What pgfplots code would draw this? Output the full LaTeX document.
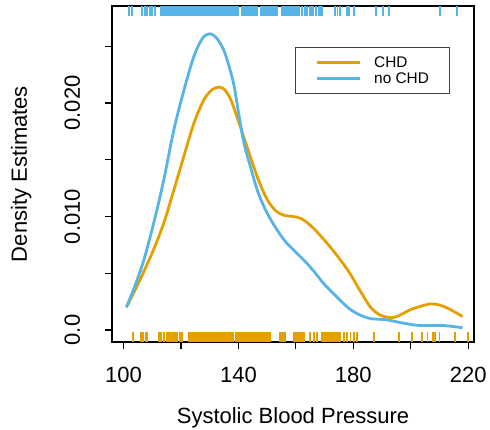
\documentclass[border=0pt]{standalone}
\usepackage{fontspec}
\setmainfont{Liberation Sans}
\usepackage{pgfplots}
\pgfplotsset{compat=1.18}
\definecolor{chd}{HTML}{E69F00}
\definecolor{nochd}{HTML}{56B4E9}

\begin{document}
\begin{tikzpicture}
\begin{axis}[
  name=ax,
  scale only axis,
  width=362pt, height=336pt,
  xmin=96, xmax=222,
  ymin=-0.001057, ymax=0.028546,
  scaled y ticks=false,
  axis line style={line width=1.1pt},
  xtick={100,120,...,220},
  xticklabels={100,,140,,180,,220},
  ytick={0,0.005,0.01,0.015,0.02,0.025},
  yticklabels={0.0,,0.010,,0.020,},
  xtick pos=bottom, ytick pos=left,
  tick align=outside,
  major tick length=7pt,
  tick style={line width=1.1pt, black},
  tick label style={font=\fontsize{22}{26}\selectfont},
  xticklabel style={anchor=base, yshift=-34pt},
  yticklabel style={xshift=-25pt, rotate=90, anchor=base},
  label style={font=\fontsize{22}{26}\selectfont},
  xlabel={Systolic Blood Pressure},
  ylabel={Density Estimates},
  xlabel style={at={(axis description cs:0.5,-0.244)}, anchor=base},
  ylabel style={at={(axis description cs:-0.235,0.5)}, anchor=base},
  legend style={at={(rel axis cs:0.5055,0.878)}, anchor=north west,
    font=\fontsize{15.4}{18}\selectfont, draw=black!75, line width=0.8pt,
    inner xsep=20pt, inner ysep=9pt, row sep=4pt, column sep=13pt,
    nodes={inner sep=0pt}},
  legend cell align=left,
  legend image code/.code={\draw[#1] (0pt,0pt) -- (43pt,0pt);},
]
% CHD density
\addplot[chd, line width=2.8pt, smooth] coordinates {
(101,0.0020) (104,0.0035) (107,0.0051) (110.5,0.0071) (114,0.0094)
(117.5,0.0123) (121,0.0153) (124.5,0.0182) (128,0.0203) (131,0.0212)
(133.5,0.0214) (135.5,0.0211) (137.5,0.0202) (140,0.0184) (142,0.0169)
(144.5,0.0150) (147,0.0132) (150,0.0115) (153,0.0105) (156,0.0101)
(159,0.0100) (162,0.0098) (166,0.0090) (172,0.0073) (178,0.0053)
(182.5,0.0034) (186,0.0020) (189.5,0.0013) (194,0.0011) (200,0.0018)
(203.5,0.0021) (207,0.0023) (210,0.0022) (213,0.0019) (218,0.0012)
};
\addlegendentry{CHD}
% no CHD density
\addplot[nochd, line width=2.8pt, smooth] coordinates {
(101,0.0020) (104,0.0039) (107,0.0061) (110.5,0.0094) (114,0.0132)
(117.5,0.0176) (121,0.0211) (124.5,0.0241) (127.5,0.0257) (130,0.0261)
(132.5,0.0257) (135,0.0246) (137,0.0230) (138.5,0.0215) (140,0.0192)
(142,0.0164) (144.5,0.0141) (147,0.0120) (150,0.0103) (153,0.0090)
(156,0.0079) (159,0.0071) (163,0.0061) (166.5,0.0051) (170,0.0040)
(175.5,0.0026) (179,0.0018) (182.5,0.0013) (186,0.0010) (191.5,0.0009)
(197.5,0.0006) (203,0.0004) (211,0.0004) (218,0.0002)
};
\addlegendentry{no CHD}

% rug, no CHD (top)
\addplot[forget plot, only marks, mark=|, mark size=5pt,
  mark options={line width=1.9pt, nochd}] coordinates {
(101.9,0.02811) (103,0.02811) (106.5,0.02811) (107.4,0.02811) (108.2,0.02811)
(109.1,0.02811) (110,0.02811) (110.9,0.02811) (113,0.02811) (113.5,0.02811) (114,0.02811)
(114.5,0.02811) (115,0.02811) (115.5,0.02811) (116,0.02811) (116.5,0.02811) (117,0.02811)
(117.5,0.02811) (118,0.02811) (118.5,0.02811) (119,0.02811) (119.5,0.02811) (120,0.02811)
(120.5,0.02811) (121,0.02811) (121.5,0.02811) (122,0.02811) (122.5,0.02811) (123,0.02811)
(123.5,0.02811) (124,0.02811) (124.5,0.02811) (125,0.02811) (125.5,0.02811) (126,0.02811)
(126.5,0.02811) (127,0.02811) (127.5,0.02811) (128,0.02811) (128.5,0.02811) (129,0.02811)
(129.5,0.02811) (130,0.02811) (130.5,0.02811) (131,0.02811) (131.5,0.02811) (132,0.02811)
(132.5,0.02811) (133,0.02811) (133.5,0.02811) (134,0.02811) (134.5,0.02811) (135,0.02811)
(135.5,0.02811) (136,0.02811) (136.5,0.02811) (137,0.02811) (137.5,0.02811) (138,0.02811)
(138.5,0.02811) (139,0.02811) (139.5,0.02811) (140,0.02811) (141.3,0.02811) (141.8,0.02811)
(142.3,0.02811) (142.8,0.02811) (143.3,0.02811) (143.8,0.02811) (144.3,0.02811) (144.8,0.02811)
(145.3,0.02811) (145.8,0.02811) (146.4,0.02811) (147.7,0.02811) (148.2,0.02811) (148.7,0.02811)
(149.2,0.02811) (149.7,0.02811) (150.2,0.02811) (150.7,0.02811) (151.2,0.02811) (152,0.02811)
(152.6,0.02811) (153.4,0.02811) (155.2,0.02811) (155.7,0.02811) (156.2,0.02811) (156.7,0.02811)
(157.2,0.02811) (157.7,0.02811) (158.2,0.02811) (158.7,0.02811) (159.2,0.02811) (159.7,0.02811)
(160.2,0.02811) (160.7,0.02811) (161.2,0.02811) (162.2,0.02811) (163,0.02811) (163.5,0.02811)
(164,0.02811) (165,0.02811) (165.5,0.02811) (166,0.02811) (167,0.02811) (168,0.02811)
(168.5,0.02811) (169.1,0.02811) (173.7,0.02811) (174.5,0.02811) (175.5,0.02811) (177.8,0.02811)
(178.4,0.02811) (180.1,0.02811) (188,0.02811) (190.3,0.02811) (192.3,0.02811)
(210.3,0.02811) (216.1,0.02811)
};
% rug, CHD (bottom)
\addplot[forget plot, only marks, mark=|, mark size=5pt,
  mark options={line width=1.9pt, chd}] coordinates {
(103.4,-0.00062) (106.1,-0.00062) (106.8,-0.00062) (107.7,-0.00062) (108.2,-0.00062)
(112.3,-0.00062) (112.9,-0.00062) (114,-0.00062) (115.2,-0.00062) (115.8,-0.00062)
(116.3,-0.00062) (116.9,-0.00062) (117.5,-0.00062) (118.1,-0.00062) (118.7,-0.00062)
(119.8,-0.00062) (120.4,-0.00062) (122.7,-0.00062) (123.2,-0.00062) (123.7,-0.00062)
(124.2,-0.00062) (124.7,-0.00062) (125.2,-0.00062) (125.7,-0.00062) (126.2,-0.00062)
(126.7,-0.00062) (127.2,-0.00062) (127.7,-0.00062) (128.2,-0.00062) (128.7,-0.00062)
(129.2,-0.00062) (129.7,-0.00062) (130.2,-0.00062) (130.7,-0.00062) (131.2,-0.00062)
(131.7,-0.00062) (132.2,-0.00062) (132.7,-0.00062) (133.2,-0.00062) (133.7,-0.00062)
(134.2,-0.00062) (134.7,-0.00062) (135.2,-0.00062) (135.7,-0.00062) (136.2,-0.00062)
(136.7,-0.00062) (137.2,-0.00062) (137.7,-0.00062) (138.2,-0.00062) (139,-0.00062)
(139.5,-0.00062) (140,-0.00062) (140.5,-0.00062) (141,-0.00062) (141.5,-0.00062)
(142,-0.00062) (142.5,-0.00062) (143,-0.00062) (143.5,-0.00062) (144,-0.00062)
(144.8,-0.00062) (145.3,-0.00062) (145.8,-0.00062) (146.3,-0.00062) (146.8,-0.00062)
(147.3,-0.00062) (147.8,-0.00062) (148.3,-0.00062) (148.8,-0.00062) (149.3,-0.00062)
(149.8,-0.00062) (150.3,-0.00062) (151,-0.00062) (154.6,-0.00062) (155.2,-0.00062)
(155.8,-0.00062) (156.3,-0.00062) (159.2,-0.00062) (159.7,-0.00062) (160.2,-0.00062)
(160.7,-0.00062) (161.2,-0.00062) (161.7,-0.00062) (162.2,-0.00062) (162.7,-0.00062)
(164.8,-0.00062) (166.2,-0.00062) (167.4,-0.00062) (169.1,-0.00062) (169.6,-0.00062)
(170.1,-0.00062) (170.6,-0.00062) (171.1,-0.00062) (171.6,-0.00062) (172.1,-0.00062)
(172.6,-0.00062) (173.1,-0.00062) (173.6,-0.00062) (174.1,-0.00062) (174.6,-0.00062)
(175.5,-0.00062) (176.6,-0.00062) (177.8,-0.00062) (179,-0.00062) (180.1,-0.00062)
(181.3,-0.00062) (187.3,-0.00062) (196,-0.00062) (200.4,-0.00062) (203.9,-0.00062)
(205.8,-0.00062) (207.6,-0.00062) (208.5,-0.00062) (210,-0.00062) (215.5,-0.00062)
(220,-0.00062)
};
\end{axis}
\pgfresetboundingbox
\path[use as bounding box] ([shift={(-112pt,-88pt)}]ax.south west) rectangle ([shift={(16pt,6pt)}]ax.north east);
\end{tikzpicture}
\end{document}
